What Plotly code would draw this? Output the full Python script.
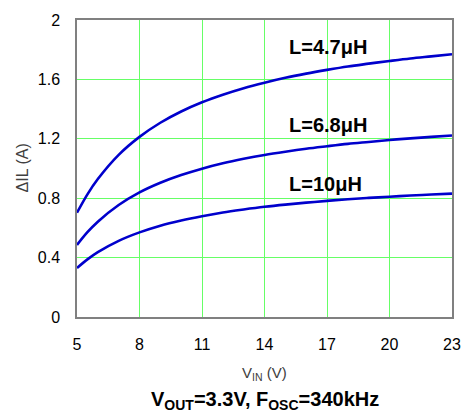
import plotly.graph_objects as go

vin = [5, 5.5, 6, 7, 8, 9, 10, 11, 12, 13, 14, 15, 16, 17, 18, 19, 20, 21, 22, 23]
di_47 = [0.702, 0.826, 0.929, 1.092, 1.213, 1.308, 1.384, 1.446, 1.497, 1.541, 1.578,
         1.611, 1.639, 1.664, 1.687, 1.706, 1.724, 1.741, 1.755, 1.769]
di_68 = [0.485, 0.571, 0.642, 0.754, 0.839, 0.904, 0.956, 0.999, 1.035, 1.065, 1.091,
         1.113, 1.133, 1.150, 1.166, 1.179, 1.192, 1.203, 1.213, 1.222]
di_10 = [0.330, 0.388, 0.437, 0.513, 0.570, 0.615, 0.650, 0.679, 0.704, 0.724, 0.742,
         0.757, 0.770, 0.782, 0.793, 0.802, 0.810, 0.818, 0.825, 0.831]
series_names = ["L=4.7μH", "L=6.8μH", "L=10μH"]
label_x = [17.05, 17.05, 16.95]
label_y = [1.815, 1.29, 0.895]
x_ticks = [5, 8, 11, 14, 17, 20, 23]
y_ticks = [0, 0.4, 0.8, 1.2, 1.6, 2]
y_tick_text = ["0", "0.4", "0.8", "1.2", "1.6", "2"]

FONT = "Liberation Sans, Arial, sans-serif"
BLUE = "#0000CC"
GREEN = "#66FF66"

fig = go.Figure()
for name, ys in zip(series_names, [di_47, di_68, di_10]):
    fig.add_trace(go.Scatter(x=vin, y=ys, mode="lines", name=name,
                             line=dict(color=BLUE, width=2.6, shape="spline"),
                             showlegend=False))

for name, lx, ly in zip(series_names, label_x, label_y):
    fig.add_annotation(x=lx, y=ly, text="<b>" + name + "</b>", showarrow=False,
                       font=dict(family=FONT, size=20, color="black"),
                       xanchor="center", yanchor="middle")

fig.add_annotation(xref="paper", yref="paper", x=0.5, y=0, yshift=-56,
                   text="V<sub>IN</sub> (V)", showarrow=False,
                   font=dict(family=FONT, size=15, color="#404040"),
                   xanchor="center", yanchor="middle")
fig.add_annotation(xref="paper", yref="paper", x=0.5, y=0, yshift=-83,
                   text="<b>V<sub>OUT</sub>=3.3V, F<sub>OSC</sub>=340kHz</b>", showarrow=False,
                   font=dict(family=FONT, size=20, color="black"),
                   xanchor="center", yanchor="middle")
fig.add_annotation(xref="paper", yref="paper", x=0, y=0.5, xshift=-55,
                   text="ΔIL (A)", showarrow=False, textangle=-90,
                   font=dict(family=FONT, size=16, color="#404040"),
                   xanchor="center", yanchor="middle")

fig.update_layout(
    width=473, height=412,
    margin=dict(l=77, r=14, t=15, b=95),
    paper_bgcolor="white", plot_bgcolor="white",
    font=dict(family=FONT, size=16, color="black"),
)
fig.update_xaxes(range=[5, 23], tickvals=x_ticks, showgrid=True, gridcolor=GREEN, gridwidth=1,
                 showline=True, linecolor="#808080", linewidth=1.5, mirror=True,
                 ticks="outside", ticklen=12, tickcolor="rgba(0,0,0,0)", zeroline=False,
                 tickfont=dict(family=FONT, size=16, color="black"))
fig.update_yaxes(range=[0, 2], tickvals=y_ticks, ticktext=y_tick_text, showgrid=True,
                 gridcolor=GREEN, gridwidth=1,
                 showline=True, linecolor="#808080", linewidth=1.5, mirror=True,
                 ticks="outside", ticklen=12, tickcolor="rgba(0,0,0,0)", zeroline=False,
                 tickfont=dict(family=FONT, size=16, color="black"))

fig.write_html("out.html", config={"displayModeBar": False},
               post_script="document.body.style.margin='0';document.body.style.overflow='hidden';")
